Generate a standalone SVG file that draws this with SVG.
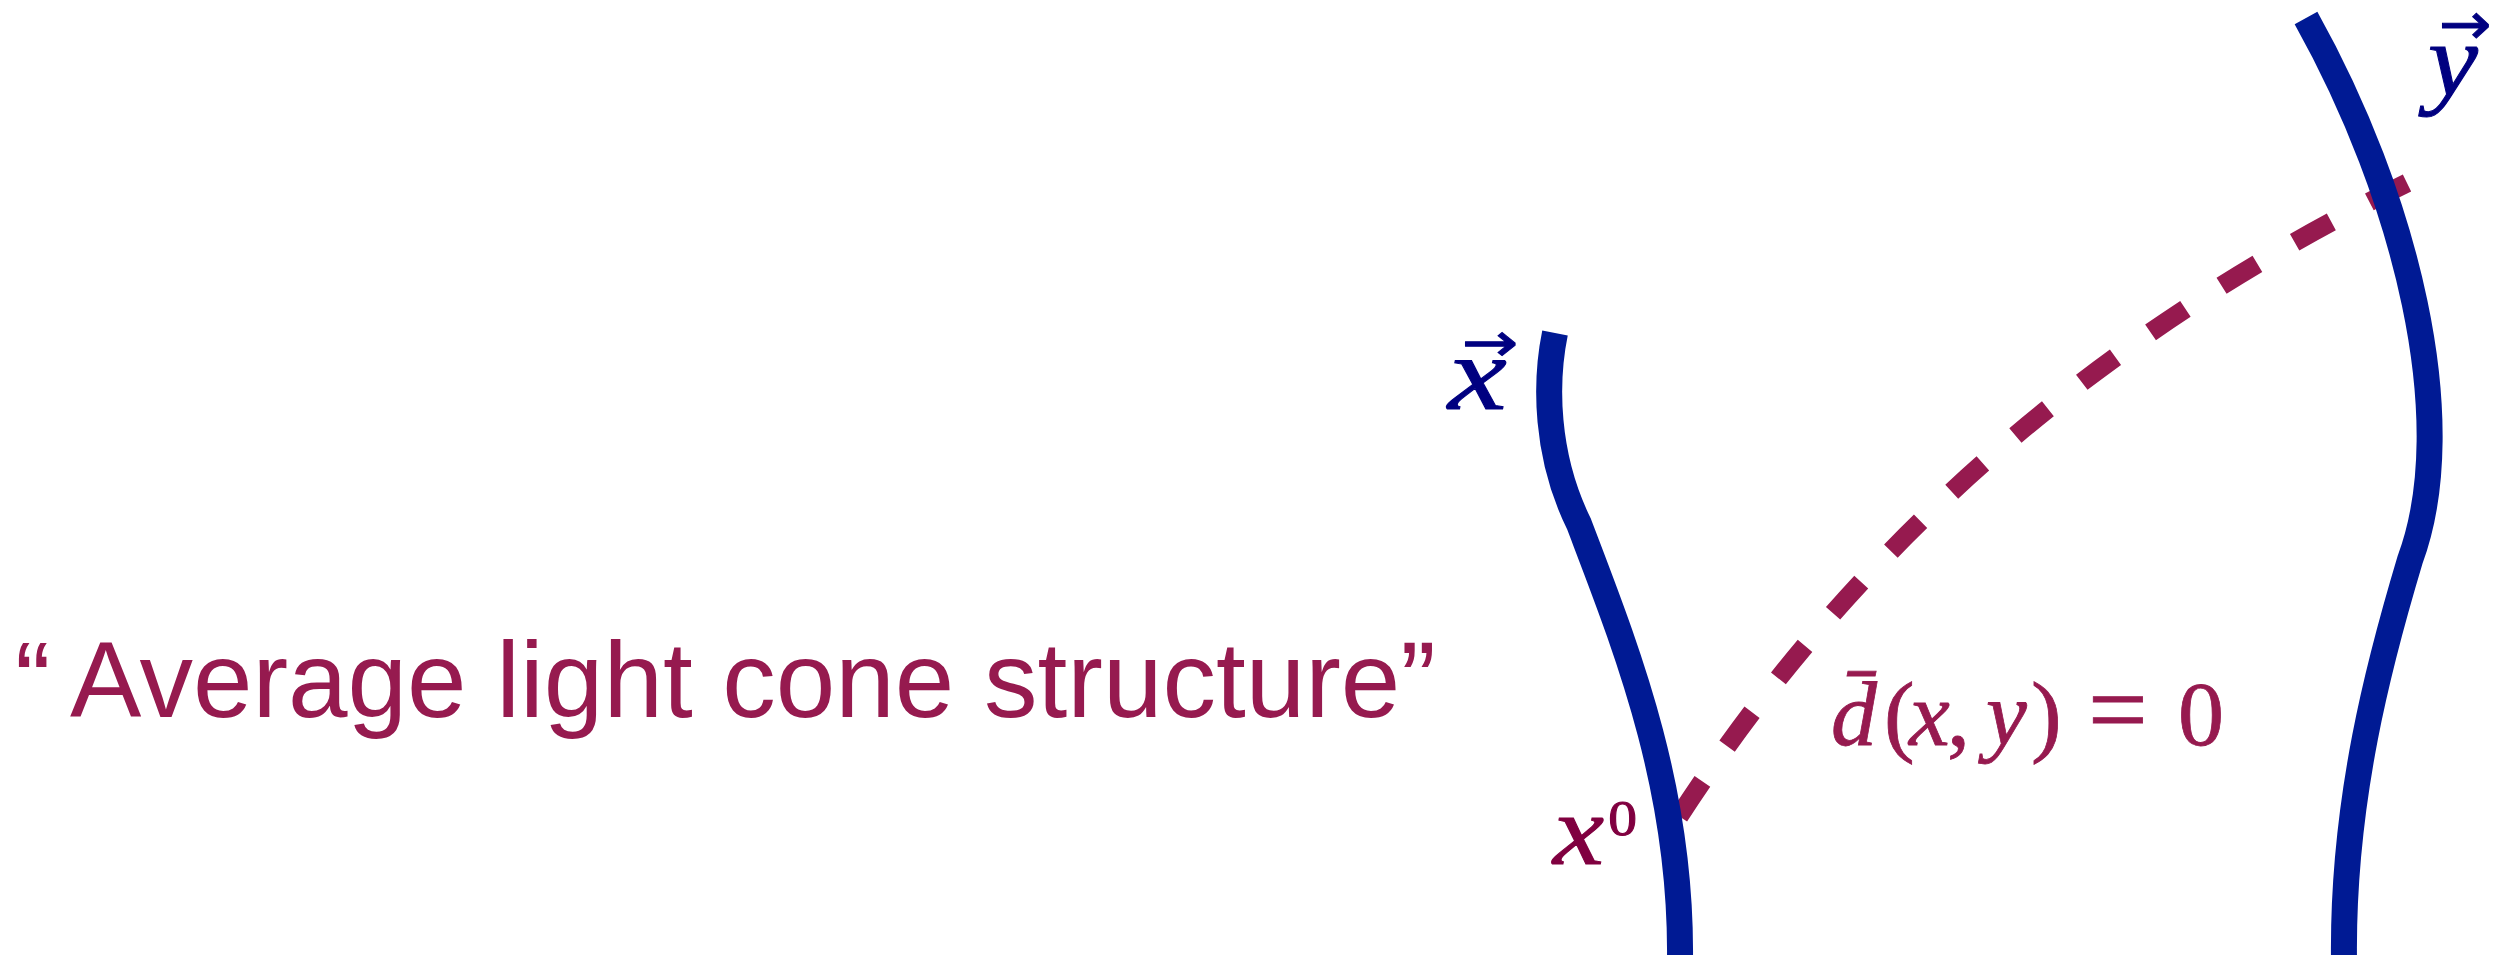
<svg xmlns="http://www.w3.org/2000/svg" width="2515" height="955" viewBox="0 0 2515 955">
  <style>
    .world { fill: none; stroke: #001A94; stroke-width: 26; stroke-linecap: butt; stroke-linejoin: miter; }
    .lc { fill: none; stroke: #961A4F; stroke-width: 19; stroke-dasharray: 42 43; stroke-linecap: butt; }
    .title { font-family: "Liberation Sans", Arial, Helvetica, sans-serif; font-size: 107px; fill: #961A4F; }
    .math { font-family: "Liberation Serif", "Times New Roman", serif; }
    .it { font-style: italic; }
    .arrow { font-family: "DejaVu Sans", sans-serif; }
    .vec { fill: #000080; stroke: #000080; stroke-width: 1; }
    .expr { fill: #961A4F; stroke: #961A4F; stroke-width: 0.8; font-size: 92px; }
    .x0 { fill: #800040; stroke: #800040; stroke-width: 1; }
  </style>
  <rect width="2515" height="955" fill="#ffffff"/>

  <g id="connectors">
    <path id="light-cone" class="lc" d="M2407,183 Q1942,410 1678,818"/>
  </g>

  <g id="worldline-x">
    <path class="world" d="M1555,333 C1545,382 1545,455 1579,524 C1625,645 1682,785 1680,960"/>
  </g>

  <g id="worldline-y">
    <path class="world" d="M2306,18 C2405,195 2462,420 2410,560 C2380,660 2342,800 2344,960"/>
  </g>

  <g id="label-x-vec" class="math vec">
    <text transform="translate(1448,409) scale(1.25,1)" font-size="106"><tspan class="it" x="0" y="0">x</tspan><tspan class="arrow" font-size="54" x="11" y="-48">→</tspan></text>
  </g>

  <g id="label-y-vec" class="math vec">
    <text transform="translate(2428,95) scale(1.08,1)" font-size="104"><tspan class="it" x="0" y="0">y</tspan><tspan class="arrow" font-size="58" x="10" y="-51">→</tspan></text>
  </g>

  <g id="label-x0" class="math x0">
    <text transform="translate(1553,864) scale(1.15,1)" font-size="100"><tspan class="it" x="0" y="0">x</tspan><tspan font-size="50" x="48" y="-29">0</tspan></text>
  </g>

  <g id="label-condition" class="math expr">
    <text class="it" x="1831" y="745">d̄</text>
    <text y="745"><tspan x="1884">(</tspan><tspan class="it" x="1909">x</tspan><tspan x="1947">,</tspan><tspan class="it" x="1986">y</tspan><tspan x="2031">)</tspan><tspan x="2088" font-size="106">=</tspan><tspan x="2178">0</tspan></text>
  </g>

  <g id="title">
    <text class="title" y="717"><tspan x="15">“</tspan><tspan x="70">Average light cone structure”</tspan></text>
  </g>
</svg>
